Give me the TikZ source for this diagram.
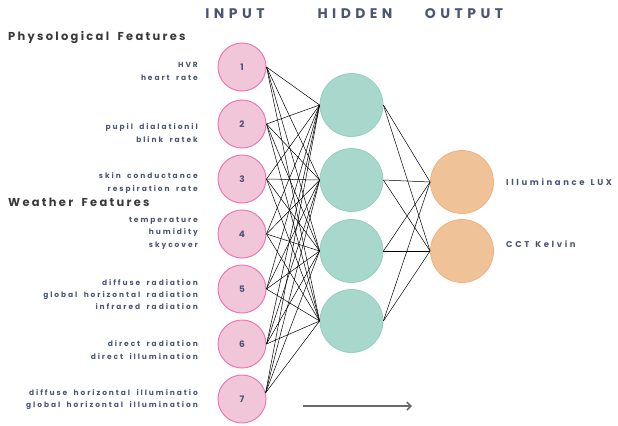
\documentclass[tikz,border=0pt]{standalone}
\usepackage{fontspec}
\setmainfont{Poppins}
\newfontfamily\labfont[LetterSpace=26,WordSpace=1.8]{Poppins}
\newfontfamily\olabfont[LetterSpace=31]{Poppins}
\newfontfamily\headfont[LetterSpace=20,WordSpace=1.8]{Poppins}
\newfontfamily\titlefont[LetterSpace=32]{Poppins}
\usetikzlibrary{arrows.meta}
\definecolor{txtblue}{HTML}{4B5675}
\definecolor{headgray}{HTML}{3A3A3A}
\definecolor{pinkfill}{HTML}{F2C6D9}
\definecolor{pinkline}{HTML}{EC78B5}
\definecolor{tealfill}{HTML}{A8D8CB}
\definecolor{tealline}{HTML}{94CFC0}
\definecolor{orfill}{HTML}{F0C297}
\definecolor{orline}{HTML}{F2B182}
\definecolor{arrgray}{HTML}{6A6A6A}
\tikzset{
  inp/.style={circle, draw=pinkline, fill=pinkfill, line width=1pt, minimum size=48bp, inner sep=0pt, text=txtblue, font=\bfseries\fontsize{9}{10}\selectfont},
  hid/.style={circle, draw=tealline, fill=tealfill, line width=0.8pt, minimum size=63bp, inner sep=0pt},
  outn/.style={circle, draw=orline, fill=orfill, line width=0.8pt, minimum size=63bp, inner sep=0pt},
  feat/.style={anchor=east, align=right, inner sep=0pt, text=txtblue, font=\labfont\bfseries\fontsize{7.5}{12.5}\selectfont},
  head/.style={anchor=west, inner sep=0pt, text=headgray, font=\headfont\bfseries\fontsize{11.5}{13}\selectfont},
  ttl/.style={inner sep=0pt, text=txtblue, font=\titlefont\bfseries\fontsize{14}{16}\selectfont},
  outlab/.style={anchor=west, inner sep=0pt, text=txtblue, font=\olabfont\bfseries\fontsize{8.5}{10}\selectfont},
  conn/.style={draw=black, line width=0.5pt},
}
\begin{document}
\begin{tikzpicture}[x=1bp, y=-1bp]
\useasboundingbox (0,0) rectangle (618,425);
% titles
\node[ttl] (tin) at (235,14) {INPUT};
\node[ttl] (thid) at (355,14) {HIDDEN};
\node[ttl] (tout) at (464,14) {OUTPUT};
\node[head] (hphys) at (8,37) {Physological Features};
\node[head] (hweat) at (8,202) {Weather Features};
% input nodes
\node[inp] (in1) at (242,67) {1};
\node[inp] (in2) at (242,124) {2};
\node[inp] (in3) at (242,179) {3};
\node[inp] (in4) at (242,234) {4};
\node[inp] (in5) at (242,289) {5};
\node[inp] (in6) at (242,344) {6};
\node[inp] (in7) at (242,399) {7};
% hidden
\node[hid] (h1) at (351.5,105) {};
\node[hid] (h2) at (351.5,180) {};
\node[hid] (h3) at (351.5,251) {};
\node[hid] (h4) at (351.5,321) {};
% output
\node[outn] (o1) at (462,182) {};
\node[outn] (o2) at (462,251) {};
% labels
\node[feat] (l1) at (198,71.5) {HVR\\heart rate};
\node[feat] (l2) at (198,133) {pupil dialationil\\blink ratek};
\node[feat] (l3) at (198,183) {skin conductance\\respiration rate};
\node[feat] (l4) at (198,233) {temperature\\humidity\\skycover};
\node[feat] (l5) at (198,294.5) {diffuse radiation\\global horizontal radiation\\infrared radiation};
\node[feat] (l6) at (198,350) {direct radiation\\direct illumination};
\node[feat] (l7) at (198,399.5) {diffuse horizontal illuminatio\\global horizontal illumination};
\node[outlab] (ol1) at (506,182) {Illuminance\hspace{6bp}LUX};
\node[outlab] (ol2) at (506,244) {CCT\hspace{6bp}Kelvin};
% connections
\foreach \i in {1,...,6} {
  \foreach \j in {1,...,4} {
    \draw[conn] (in\i.east) -- (h\j.west);
  }
}
\foreach \j in {1,...,4} {
  \draw[conn] (in7.15) -- (h\j.west);
  \draw[conn] (h\j.east) -- (o1.west);
  \draw[conn] (h\j.east) -- (o2.west);
}
% arrow
\coordinate (as) at (303,406);
\coordinate (ae) at (412,406);
\draw[draw=arrgray, line width=1.6pt, -{Straight Barb[length=4bp,width=8bp]}] (as) -- (ae);
\end{tikzpicture}
\end{document}
